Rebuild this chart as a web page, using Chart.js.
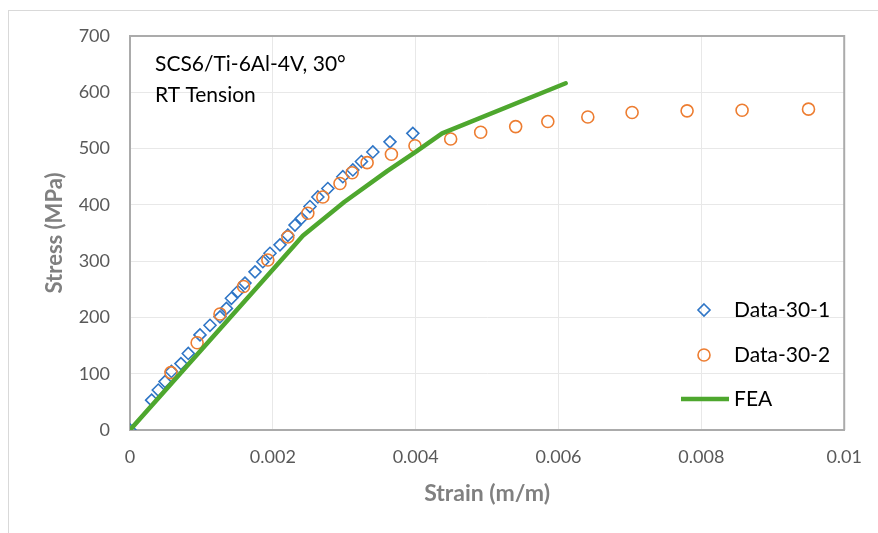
<!DOCTYPE html>
<html>
<head>
<meta charset="utf-8">
<script src="https://cdn.jsdelivr.net/npm/chart.js@4.4.1/dist/chart.umd.min.js"></script>
<style>
  html, body { margin: 0; padding: 0; background: #fff; }
  #wrap { position: relative; width: 878px; height: 533px; overflow: hidden; }
  #frame { position: absolute; left: 8px; top: 10px; width: 900px; height: 560px; border: 1px solid #d9d9d9; box-sizing: border-box; }
  canvas { position: absolute; left: 0; top: 0; }
</style>
</head>
<body>
<div id="wrap">
  <div id="frame"></div>
  <canvas id="chart" width="878" height="533"></canvas>
</div>
<script>
// strain (m/m) and stress (MPa)
const data1Strain = [0, 0.000303, 0.000396, 0.00049, 0.00058, 0.000713, 0.000816, 0.00098, 0.00112, 0.00126,
  0.00135, 0.00142, 0.00151, 0.00161, 0.00175, 0.00186, 0.00196, 0.0021, 0.00221, 0.00231,
  0.0024, 0.00252, 0.00263, 0.00277, 0.00298, 0.00312, 0.00324, 0.0034, 0.00364, 0.00396];
const data1Stress = [0, 53, 71, 86, 104, 118, 136, 169, 186, 201,
  216, 234, 246, 261, 281, 299, 314, 329, 346, 364,
  376, 397, 414, 429, 450, 462, 477, 494, 512, 527];

const data2Strain = [0.000573, 0.00094, 0.00126, 0.00159, 0.00193, 0.00221, 0.00249, 0.0027, 0.00294, 0.00311,
  0.00332, 0.00366, 0.00399, 0.00449, 0.00491, 0.0054, 0.00585, 0.00641, 0.00703, 0.0078, 0.00857, 0.0095];
const data2Stress = [102, 155, 206, 255, 302, 343, 385, 414, 438, 457,
  475, 490, 505, 517, 529, 539, 548, 556, 564, 567, 568, 570];

const feaStrain = [0, 0.0023, 0.00242, 0.003, 0.0036, 0.004, 0.00437, 0.0061];
const feaStress = [0, 328, 345, 405, 460, 494, 527, 616];

const xTickLabels = ['0', '0.002', '0.004', '0.006', '0.008', '0.01'];
const yTickLabels = ['0', '100', '200', '300', '400', '500', '600', '700'];

const seriesNames = ['Data-30-1', 'Data-30-2', 'FEA'];
const noteLines = ['SCS6/Ti-6Al-4V, 30°', 'RT Tension'];

const toPoints = (xs, ys) => xs.map((x, i) => ({ x: x, y: ys[i] }));

const BLUE = '#2e75c6', ORANGE = '#ed7d31', GREEN = '#4ea72e';
const FONT = 'Lato, "Open Sans", sans-serif';

const overlay = {
  id: 'overlay',
  afterDraw(chart) {
    const ctx = chart.ctx;
    ctx.save();
    // note text
    ctx.fillStyle = '#000';
    ctx.font = '21px ' + FONT;
    ctx.textBaseline = 'middle';
    ctx.textAlign = 'left';
    ctx.fillText(noteLines[0], 155, 64);
    ctx.fillText(noteLines[1], 155, 95);

    // legend
    const rows = [310, 355, 399];
    ctx.fillStyle = '#000';
    rows.forEach((y, i) => {
      ctx.fillText(seriesNames[i], 734, y);
    });
    ctx.lineWidth = 1.6;
    ctx.strokeStyle = BLUE;
    ctx.beginPath();
    ctx.moveTo(704, 310 - 6); ctx.lineTo(710, 310); ctx.lineTo(704, 310 + 6); ctx.lineTo(698, 310); ctx.closePath();
    ctx.stroke();
    ctx.strokeStyle = ORANGE;
    ctx.beginPath();
    ctx.arc(704, 355, 6, 0, Math.PI * 2);
    ctx.stroke();
    ctx.strokeStyle = GREEN;
    ctx.lineWidth = 4.5;
    ctx.beginPath();
    ctx.moveTo(681, 399); ctx.lineTo(729, 399);
    ctx.stroke();
    ctx.restore();
  }
};

new Chart(document.getElementById('chart'), {
  type: 'scatter',
  data: {
    datasets: [{
      label: seriesNames[0],
      data: toPoints(data1Strain, data1Stress),
      pointStyle: 'rectRot',
      pointRadius: 6,
      pointBorderWidth: 1.6,
      borderColor: BLUE,
      backgroundColor: 'rgba(0,0,0,0)',
      order: 2
    }, {
      label: seriesNames[1],
      data: toPoints(data2Strain, data2Stress),
      pointStyle: 'circle',
      pointRadius: 6,
      pointBorderWidth: 1.6,
      borderColor: ORANGE,
      backgroundColor: 'rgba(0,0,0,0)',
      order: 1
    }, {
      label: seriesNames[2],
      data: toPoints(feaStrain, feaStress),
      showLine: true,
      pointRadius: 0,
      borderColor: GREEN,
      borderWidth: 4.5,
      borderCapStyle: 'round',
      borderJoinStyle: 'round',
      order: 0
    }]
  },
  options: {
    responsive: false,
    animation: false,
    layout: { padding: { left: 0, right: 33, top: 36, bottom: 0 } },
    plugins: {
      legend: { display: false },
      tooltip: { enabled: false }
    },
    scales: {
      x: {
        type: 'linear',
        min: 0,
        max: 0.01,
        afterFit: (s) => { s.height = 103; },
        afterBuildTicks: (s) => { s.ticks = xTickLabels.map((t, i) => ({ value: i * 0.002 })); },
        ticks: {
          color: '#595959',
          font: { family: FONT, size: 18 },
          padding: 16,
          callback: (v, i) => xTickLabels[i]
        },
        grid: { color: '#e8e8e8', drawTicks: false },
        border: { color: '#ababab', width: 2 },
        title: {
          display: true,
          text: 'Strain (m/m)',
          color: '#808080',
          font: { family: FONT, size: 23, weight: 'bold' },
          padding: { top: 0, bottom: 26 }
        }
      },
      y: {
        type: 'linear',
        min: 0,
        max: 700,
        afterFit: (s) => { s.width = 130; },
        afterBuildTicks: (s) => { s.ticks = yTickLabels.map((t, i) => ({ value: i * 100 })); },
        ticks: {
          color: '#595959',
          font: { family: FONT, size: 18 },
          padding: 20,
          callback: (v, i) => yTickLabels[i]
        },
        grid: { color: '#e8e8e8', drawTicks: false },
        border: { color: '#ababab', width: 2 },
        title: {
          display: true,
          text: 'Stress (MPa)',
          color: '#808080',
          font: { family: FONT, size: 22, weight: 'bold' },
          padding: { top: 42, bottom: 0 }
        }
      }
    }
  },
  plugins: [overlay, {
    id: 'plotBorder',
    afterDatasetsDraw(chart) {
      const a = chart.chartArea, ctx = chart.ctx;
      ctx.save();
      ctx.strokeStyle = '#ababab';
      ctx.lineWidth = 2;
      ctx.beginPath();
      ctx.moveTo(a.left, a.top); ctx.lineTo(a.right, a.top); ctx.lineTo(a.right, a.bottom);
      ctx.stroke();
      ctx.restore();
    }
  }]
});
</script>
</body>
</html>
